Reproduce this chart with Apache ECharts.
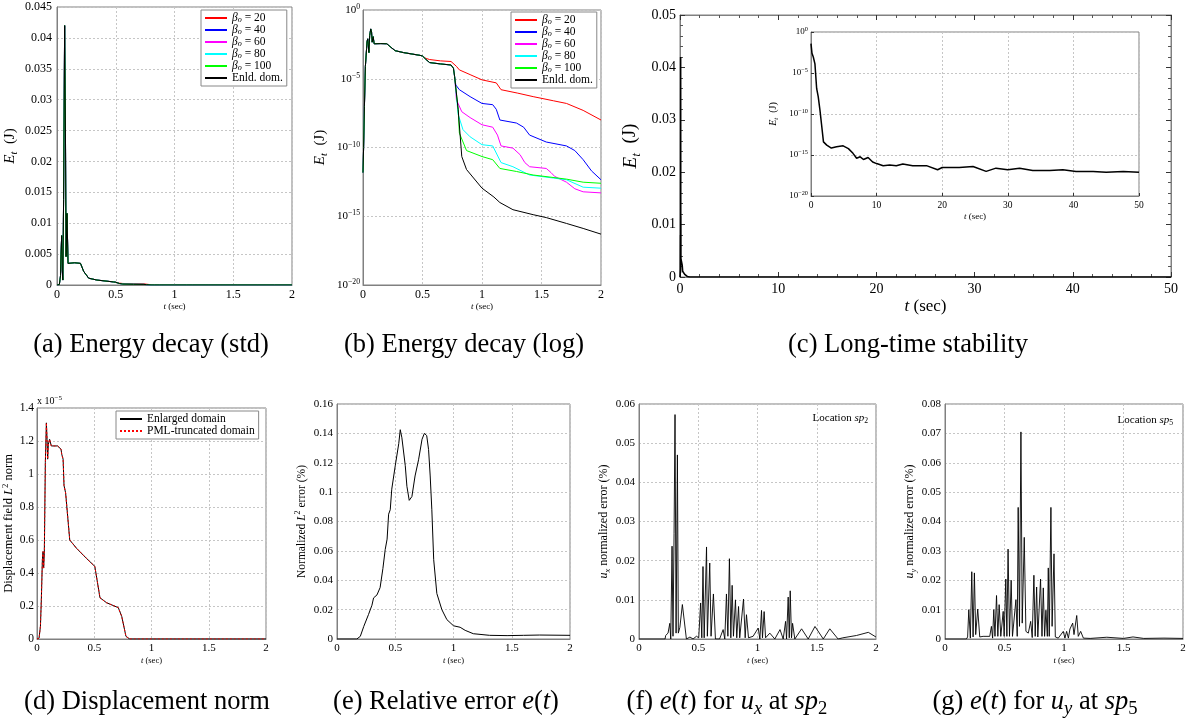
<!DOCTYPE html>
<html><head><meta charset="utf-8">
<script src="https://cdn.jsdelivr.net/npm/echarts@6/dist/echarts.min.js"></script>
<style>html,body{margin:0;padding:0;background:#fff}#c{width:1193px;height:722px}</style>
</head><body><div id="c"></div>
<script>
// ---------------- DATA ----------------
// (a)/(b) energy E_t [J] vs t [s]
const earlyRise = [[0,1.5e-12],[0.005,1e-10],[0.012,1e-7],[0.02,8e-5],[0.03,1.5e-3],[0.034,0.005],[0.04,0.008],[0.045,0.0024],[0.05,0.0008],[0.056,0.0138],[0.065,0.042],[0.072,0.0246],[0.077,0.0046],[0.085,0.0116],[0.094,0.0035],[0.15,0.0036],[0.2,0.0035],[0.227,0.0022],[0.27,0.0011],[0.34,0.0008],[0.48,0.0005],[0.5,0.00045]];
const sharedDrop = [[0.53,2.5e-4],[0.56,1.5e-4],[0.65,1.2e-4],[0.74,1e-4],[0.76,5.8e-5],[0.77,1.4e-5]];
const beta20Tail = [[0.53,3e-4],[0.56,2.5e-4],[0.65,2e-4],[0.74,1.8e-4],[0.785,8e-5],[0.81,4.4e-5],[0.9,2e-5],[1.0,8.3e-6],[1.12,5e-6],[1.16,1.6e-6],[1.3,9e-7],[1.43,5e-7],[1.6,2.5e-7],[1.71,1.6e-7],[1.85,5e-8],[2.0,1e-8]];
const beta40Tail = [[0.78,3.5e-6],[0.81,1.6e-6],[0.9,5e-7],[1.0,1.6e-7],[1.09,1.3e-7],[1.12,6e-8],[1.15,1e-8],[1.29,6e-9],[1.35,3e-9],[1.4,8e-10],[1.54,2.5e-10],[1.71,1.3e-10],[1.78,6e-11],[1.85,1.3e-11],[1.92,2e-12],[2.0,4.5e-13]];
const beta60Tail = [[0.785,3e-7],[0.83,4e-8],[0.9,1.5e-8],[1.0,4.5e-9],[1.09,3e-9],[1.13,8e-10],[1.16,1.3e-10],[1.26,9e-11],[1.32,3e-11],[1.36,8e-12],[1.4,4e-12],[1.54,3e-12],[1.58,1.5e-12],[1.61,8e-13],[1.71,3e-13],[1.78,1e-13],[1.85,6e-14],[2.0,5e-14]];
const beta80Tail = [[0.8,2.5e-8],[0.84,2e-9],[0.9,6e-10],[1.0,1.6e-10],[1.09,1.3e-10],[1.16,8e-12],[1.26,4e-12],[1.4,1e-12],[1.6,6e-13],[1.71,4.5e-13],[1.85,1.3e-13],[2.0,1.1e-13]];
const beta100Tail = [[0.8,5.5e-8],[0.81,1.1e-9],[0.87,6e-11],[1.0,2.2e-11],[1.09,1.3e-11],[1.15,3e-12],[1.29,1.8e-12],[1.43,1e-12],[1.71,5e-13],[1.85,3e-13],[2.0,2.5e-13]];
const enldTail = [[0.8,5.5e-8],[0.83,2.2e-11],[0.87,2.5e-12],[1.0,1.1e-13],[1.1,2.5e-14],[1.15,1e-14],[1.26,3e-15],[1.43,1.3e-15],[1.54,8e-16],[1.71,3e-16],[1.85,1.3e-16],[2.0,5e-17]];
const betaNames = ['βo = 20','βo = 40','βo = 60','βo = 80','βo = 100','Enld. dom.'];
const betaColors = ['#ff0000','#0000ff','#ff00ff','#00ffff','#00ff00','#000000'];

// (c) long-time energy (inset, log) t up to 50 s
const longTime = [[0,0.038],[0.15,2.5e-3],[0.35,9e-4],[0.6,1.3e-4],[0.86,1.3e-7],[1.1,1.3e-8],[1.37,2.8e-10],[1.6,6e-12],[1.9,4e-14],[2.4,1.6e-14],[3.1,7e-15],[3.9,1e-14],[4.9,1.3e-14],[5.7,6e-15],[6.4,1.6e-15],[6.95,4e-16],[7.5,6e-16],[8,2.8e-16],[8.7,5e-16],[9.4,1.4e-16],[10,9e-17],[11,5e-17],[12,6e-17],[13,5e-17],[14,8e-17],[15.5,5e-17],[17.6,5e-17],[19.3,1.6e-17],[20,3e-17],[22.6,3e-17],[24.7,4e-17],[26.7,1e-17],[28.2,2.5e-17],[30,1.6e-17],[31.8,2.5e-17],[33.8,1.3e-17],[36.4,1.3e-17],[38.4,1.6e-17],[40.4,1e-17],[43,1e-17],[45,8e-18],[47.6,1e-17],[50,8e-18]];

// (d) displacement L2 norm, in units of 1e-5
const dispNorm = [[0,0],[0.018,0.005],[0.03,0.077],[0.038,0.24],[0.047,0.48],[0.053,0.53],[0.058,0.43],[0.064,0.52],[0.073,1.07],[0.082,1.31],[0.088,1.21],[0.093,1.09],[0.099,1.18],[0.11,1.21],[0.125,1.17],[0.18,1.17],[0.21,1.15],[0.216,1.12],[0.228,1.09],[0.236,0.93],[0.25,0.885],[0.286,0.6],[0.345,0.55],[0.43,0.49],[0.505,0.44],[0.55,0.25],[0.607,0.22],[0.71,0.19],[0.74,0.137],[0.777,0.016],[0.81,0],[2,0]];
// (e) normalized L2 error (%)
const relErr = [[0,0],[0.17,0],[0.2,0.0018],[0.23,0.0086],[0.27,0.0166],[0.3,0.023],[0.314,0.028],[0.343,0.03],[0.37,0.035],[0.394,0.048],[0.414,0.061],[0.43,0.068],[0.443,0.085],[0.457,0.088],[0.47,0.102],[0.5,0.118],[0.53,0.133],[0.543,0.1425],[0.557,0.137],[0.57,0.136],[0.586,0.118],[0.6,0.104],[0.62,0.0944],[0.643,0.097],[0.67,0.111],[0.7,0.122],[0.73,0.136],[0.75,0.14],[0.77,0.1385],[0.786,0.129],[0.8,0.111],[0.814,0.088],[0.83,0.054],[0.857,0.031],[0.9,0.02],[0.943,0.0132],[1.0,0.009],[1.057,0.008],[1.1,0.0059],[1.17,0.0036],[1.31,0.0025],[1.46,0.0023],[1.6,0.0025],[1.74,0.0027],[2.0,0.0025]];
// (f) u_x error at sp2 (%)
const uxErr = [[0,0],[0.22,0],[0.225,0.0009],[0.245,0.0015],[0.26,0.004],[0.268,0],[0.279,0.0237],[0.287,0.0007],[0.296,0.027],[0.304,0.0573],[0.313,0.0015],[0.324,0.047],[0.332,0.0015],[0.345,0.003],[0.366,0.0088],[0.4,0],[0.43,0.0005],[0.456,0],[0.485,0.0007],[0.504,0.0003],[0.52,0.0092],[0.53,0.0003],[0.54,0.0185],[0.55,0.0003],[0.57,0.0235],[0.577,0.0007],[0.597,0.0194],[0.608,0.0007],[0.628,0.0115],[0.645,0],[0.68,0],[0.71,0.0024],[0.724,0],[0.738,0.0115],[0.75,0.0007],[0.763,0.0205],[0.775,0.0003],[0.786,0.0137],[0.797,0.0007],[0.814,0.01],[0.825,0.0003],[0.84,0.0083],[0.85,0.0003],[0.882,0.0102],[0.896,0.0003],[0.907,0.0062],[0.924,0.0003],[0.963,0.0007],[1.006,0.0028],[1.02,0],[1.034,0.0073],[1.042,0.0003],[1.056,0.007],[1.068,0.0003],[1.104,0.0015],[1.146,0],[1.19,0.0024],[1.217,0],[1.237,0.0045],[1.245,0],[1.259,0.0107],[1.268,0.0003],[1.276,0.0123],[1.287,0.0003],[1.296,0.004],[1.315,0],[1.372,0.0026],[1.428,0],[1.485,0.0032],[1.555,0],[1.61,0.0026],[1.68,0],[1.72,0.0003],[1.836,0.0009],[1.935,0.0017],[2.0,0.0005]];
// (g) u_y error at sp5 (%)
const uyErr = [[0,0],[0.18,0],[0.19,0.0007],[0.2,0.01],[0.213,0.0003],[0.225,0.0229],[0.236,0.0007],[0.247,0.0225],[0.258,0.0015],[0.275,0.0102],[0.292,0.0007],[0.32,0.0009],[0.376,0.0009],[0.39,0.0043],[0.4,0.0003],[0.41,0.01],[0.42,0.0009],[0.433,0.0148],[0.444,0.0009],[0.455,0.0117],[0.469,0.0009],[0.489,0.0094],[0.497,0.0009],[0.511,0.0204],[0.52,0.0009],[0.53,0.0306],[0.542,0.0009],[0.556,0.02],[0.567,0.0009],[0.596,0.0134],[0.607,0.0009],[0.615,0.0448],[0.626,0.0043],[0.638,0.0705],[0.649,0.0054],[0.666,0.0346],[0.68,0.0026],[0.7,0.002],[0.72,0.006],[0.733,0.0005],[0.747,0.0217],[0.758,0.0009],[0.77,0.0177],[0.78,0.0007],[0.803,0.0204],[0.815,0.0009],[0.826,0.0174],[0.837,0.0009],[0.848,0.0098],[0.86,0.0009],[0.868,0.0242],[0.876,0.0009],[0.89,0.0448],[0.9,0.0043],[0.916,0.029],[0.927,0.0007],[0.952,0.0003],[0.994,0.0026],[1.008,0.0003],[1.022,0.0026],[1.037,0.0003],[1.05,0.0034],[1.073,0.0054],[1.084,0.0015],[1.107,0.008],[1.12,0.0009],[1.14,0.0026],[1.163,0.0003],[1.22,0.0002],[1.36,0.0006],[1.5,0.0002],[1.58,0.0007],[1.67,0.0002],[1.84,0.0003],[2.0,0.0002]];

// ---------------- CHART ----------------
const FONT = 'Liberation Serif';
function mkRich(fs, lh) {
  lh = lh || Math.round(fs * 1.3);
  const s = Math.round(fs * 7) / 10, sl = Math.round(fs * 7.5) / 10;
  const base = {fontFamily: FONT, color: '#000'};
  return {
    n: Object.assign({fontSize: fs, lineHeight: lh}, base),
    it: Object.assign({fontSize: fs, lineHeight: lh, fontStyle: 'italic'}, base),
    sub: Object.assign({fontSize: s, lineHeight: sl, verticalAlign: 'bottom'}, base),
    isub: Object.assign({fontSize: s, lineHeight: sl, verticalAlign: 'bottom', fontStyle: 'italic'}, base),
    sup: Object.assign({fontSize: s, lineHeight: sl, verticalAlign: 'top'}, base)
  };
}
const boxColor = '#808080';
const dash = {show: true, lineStyle: {color: '#c6c6c6', type: [2, 2], width: 1}};
const logFmt = v => { const e = Math.round(Math.log10(v)); return '{n|10}{sup|' + (e < 0 ? '−' + (-e) : e) + '}'; };

function axis(o) {
  const a = {
    type: o.log ? 'log' : 'value', gridIndex: o.grid, min: o.min, max: o.max,
    position: o.pos,
    axisLine: {show: true, onZero: false, lineStyle: {color: boxColor, width: 1}},
    axisTick: o.ticks ? {show: true, inside: true, length: o.tickLen || 5, lineStyle: {color: '#333'}} : {show: false},
    minorTick: o.minor ? {show: true, splitNumber: o.minor, length: 3, lineStyle: {color: '#555'}} : {show: false},
    splitLine: o.split === false ? {show: false} : dash,
    axisLabel: {show: o.labels !== false, color: '#000', fontFamily: FONT, fontSize: o.fs || 11, margin: o.margin || 4,
      formatter: o.formatter, rich: o.rich},
    name: o.name, nameLocation: 'middle', nameGap: o.nameGap,
    nameTextStyle: o.nameRich ? {rich: o.nameRich} : undefined
  };
  if (o.log) { a.logBase = 10; a.interval = o.interval; a.splitNumber = 4; }
  else a.interval = o.interval;
  if (o.customValues) { a.axisTick.customValues = o.customValues; a.axisLabel.customValues = o.customValues; }
  return a;
}
const tsec = '{it|t}{n| (sec)}';
const EtName = '{it|E}{isub|t}{n|  (J)}';
const logVals = [1e-20, 1e-15, 1e-10, 1e-5, 1];

const xAxes = [
  axis({grid: 0, min: 0, max: 2, interval: 0.5, fs: 12, name: tsec, nameGap: 15, nameRich: mkRich(9)}),
  axis({grid: 1, min: 0, max: 2, interval: 0.5, fs: 12, name: tsec, nameGap: 15, nameRich: mkRich(9)}),
  axis({grid: 2, min: 0, max: 50, interval: 10, fs: 14, split: false, ticks: true, minor: 5, margin: 5, name: tsec, nameGap: 19, nameRich: mkRich(17)}),
  axis({grid: 3, min: 0, max: 50, interval: 10, fs: 9.5, ticks: true, tickLen: 3, margin: 4, name: tsec, nameGap: 15, nameRich: mkRich(9)}),
  axis({grid: 4, min: 0, max: 2, interval: 0.5, fs: 11, name: tsec, nameGap: 16, nameRich: mkRich(8.5)}),
  axis({grid: 5, min: 0, max: 2, interval: 0.5, fs: 11, name: tsec, nameGap: 16, nameRich: mkRich(8.5)}),
  axis({grid: 6, min: 0, max: 2, interval: 0.5, fs: 11, name: tsec, nameGap: 16, nameRich: mkRich(8.5)}),
  axis({grid: 7, min: 0, max: 2, interval: 0.5, fs: 11, name: tsec, nameGap: 16, nameRich: mkRich(8.5)}),
  axis({grid: 2, pos: 'top', min: 0, max: 50, interval: 10, split: false, ticks: true, minor: 5, labels: false})
];
const yAxes = [
  axis({grid: 0, min: 0, max: 0.045, interval: 0.005, fs: 12, margin: 5, name: EtName, nameGap: 37, nameRich: mkRich(15)}),
  axis({grid: 1, log: true, min: 1e-20, max: 1, interval: 5, fs: 11, margin: 3, formatter: logFmt, rich: mkRich(11), customValues: logVals, name: EtName, nameGap: 33, nameRich: mkRich(15)}),
  axis({grid: 2, min: 0, max: 0.05, interval: 0.01, fs: 14, margin: 4, split: false, ticks: true, minor: 5, name: EtName, nameGap: 37, nameRich: mkRich(19)}),
  axis({grid: 3, log: true, min: 1e-20, max: 1, interval: 5, fs: 9, margin: 3, ticks: true, tickLen: 3, formatter: logFmt, rich: mkRich(9), customValues: logVals, name: EtName, nameGap: 31, nameRich: mkRich(10)}),
  axis({grid: 4, min: 0, max: 1.4, interval: 0.2, fs: 11.5, margin: 3, name: '{n|Displacement field }{it|L}{sup|2}{n| norm}', nameGap: 20, nameRich: mkRich(12.5)}),
  axis({grid: 5, min: 0, max: 0.16, interval: 0.02, fs: 11, margin: 4, name: '{n|Normalized }{it|L}{sup|2}{n| error (%)}', nameGap: 28, nameRich: mkRich(11.5)}),
  axis({grid: 6, min: 0, max: 0.06, interval: 0.01, fs: 11, margin: 4, name: '{it|u}{isub|x}{n| normalized error (%)}', nameGap: 24, nameRich: mkRich(12)}),
  axis({grid: 7, min: 0, max: 0.08, interval: 0.01, fs: 11, margin: 4, name: '{it|u}{isub|y}{n| normalized error (%)}', nameGap: 26, nameRich: mkRich(12)}),
  axis({grid: 2, pos: 'right', min: 0, max: 0.05, interval: 0.01, split: false, ticks: true, minor: 5, labels: false})
];

const gridBox = (l, t, w, h, bg) => ({left: l, top: t, width: w, height: h, containLabel: false, outerBoundsMode: 'none',
  show: true, borderColor: boxColor, borderWidth: 1, backgroundColor: bg || 'transparent'});
const grids = [
  gridBox(57, 7, 235, 278), gridBox(363, 10, 238, 275), gridBox(680, 15, 491, 262), gridBox(811, 32, 328, 164, '#fff'),
  gridBox(37, 408, 229, 231), gridBox(337, 404, 233, 235), gridBox(639, 404, 237, 235), gridBox(945, 404, 238, 235)
];

const betaData = [
  earlyRise.concat(beta20Tail),
  earlyRise.concat(sharedDrop, beta40Tail),
  earlyRise.concat(sharedDrop, beta60Tail),
  earlyRise.concat(sharedDrop, beta80Tail),
  earlyRise.concat(sharedDrop, beta100Tail),
  earlyRise.concat(sharedDrop, enldTail)
];
const line = (name, data, xi, yi, color, width, type, z) => ({
  type: 'line', name, data, xAxisIndex: xi, yAxisIndex: yi, symbol: 'none', showSymbol: false,
  lineStyle: {color, width: width || 1, type: type || 'solid'}, itemStyle: {color}, z: z || 2,
  animation: false, emphasis: {disabled: true}, silent: true
});
const series = [];
for (let p = 0; p < 2; p++)
  betaNames.forEach((n, i) => series.push(line(n, betaData[i], p, p, betaColors[i], 1)));
series.push(line('Et main', betaData[5].concat(longTime.filter(d => d[0] > 2)), 2, 2, '#000', 1.6));
series.push(line('Et inset', longTime, 3, 3, '#000', 1.5, 'solid', 5));
series.push(line('Enlarged domain', dispNorm, 4, 4, '#000', 1));
series.push(line('PML-truncated domain', dispNorm, 4, 4, '#ff0000', 1, [2, 2]));
series.push(line('relErr', relErr, 5, 5, '#000', 1));
series.push(line('uxErr', uxErr, 6, 6, '#000', 0.9));
series.push(line('uyErr', uyErr, 7, 7, '#000', 0.9));

const legendFmt = n => n.startsWith('β') ? '{it|β}{isub|o}{n| = ' + n.split('= ')[1] + '}' : '{n|' + n + '}';
const legendBase = (l, t, data) => ({
  orient: 'vertical', left: l, top: t, data, selectedMode: false, itemWidth: 22, itemHeight: 8, itemGap: 0,
  padding: [2, 4, 2, 3], borderColor: '#888', borderWidth: 1, backgroundColor: '#fff',
  itemStyle: {opacity: 0, borderWidth: 0},
  formatter: legendFmt, textStyle: {fontFamily: FONT, fontSize: 11, rich: mkRich(11.5, 11.5)}
});
const legends = [legendBase(201, 10, betaNames), legendBase(511, 12, betaNames),
  legendBase(116, 411, ['Enlarged domain', 'PML-truncated domain'])];

const txt = (x, y, text, fs, align) => ({type: 'text', x, y, silent: true, z: 100,
  style: {text, rich: mkRich(fs), align: align || 'center', textAlign: align || 'center', verticalAlign: 'middle', textVerticalAlign: 'middle', fill: '#000', font: fs + 'px ' + FONT}});
const capFs = 26.5;
const graphics = [
  txt(151, 345, '{n|(a) Energy decay (std)}', capFs),
  txt(464, 345, '{n|(b) Energy decay (log)}', capFs),
  txt(908, 345, '{n|(c) Long-time stability}', capFs),
  txt(147, 702, '{n|(d) Displacement norm}', capFs),
  txt(446, 702, '{n|(e) Relative error }{it|e}{n|(}{it|t}{n|)}', capFs),
  txt(727, 702, '{n|(f) }{it|e}{n|(}{it|t}{n|) for }{it|u}{isub|x}{n| at }{it|sp}{sub|2}', capFs),
  txt(1035, 702, '{n|(g) }{it|e}{n|(}{it|t}{n|) for }{it|u}{isub|y}{n| at }{it|sp}{sub|5}', capFs),
  txt(37, 401, '{n|x 10}{sup|−5}', 10, 'left'),
  txt(868, 418, '{n|Location }{it|sp}{sub|2}', 11, 'right'),
  txt(1173, 420, '{n|Location }{it|sp}{sub|5}', 11, 'right')
];

const chart = echarts.init(document.getElementById('c'), null, {renderer: 'canvas'});
chart.setOption({
  animation: false, backgroundColor: '#fff',
  grid: grids, xAxis: xAxes, yAxis: yAxes, series, legend: legends, graphic: graphics
});
</script>
</body></html>
